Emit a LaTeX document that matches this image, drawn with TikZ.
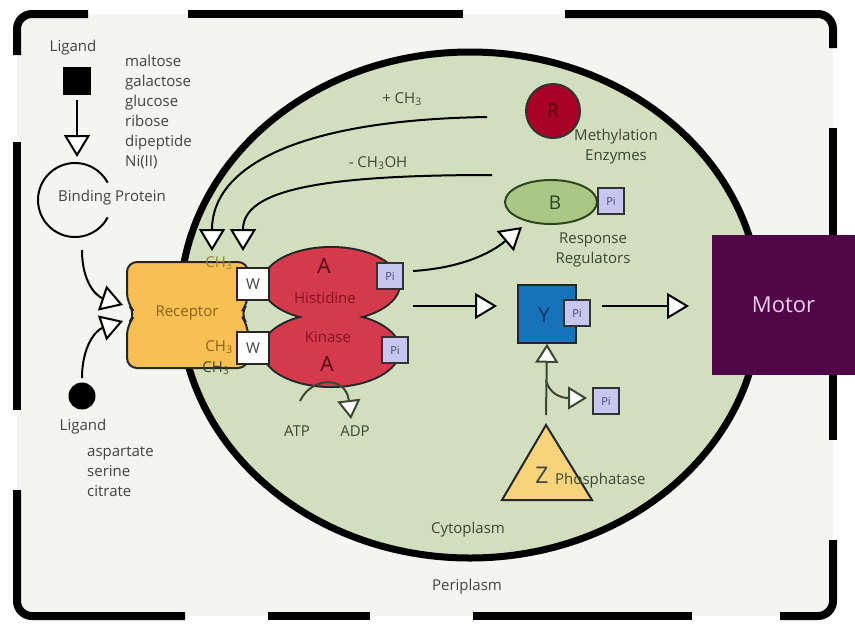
\documentclass[tikz,border=0pt]{standalone}
\usepackage{fontspec}
\setmainfont{Open Sans}
\usetikzlibrary{arrows.meta,shapes.geometric}

\definecolor{paper}{RGB}{244,244,241}
\definecolor{cellgreen}{RGB}{209,223,190}
\definecolor{labelgray}{RGB}{66,66,66}
\definecolor{celltext}{RGB}{58,72,52}
\definecolor{recyellow}{RGB}{248,192,84}
\definecolor{rectext}{RGB}{140,96,20}
\definecolor{kinred}{RGB}{212,58,76}
\definecolor{kintext}{RGB}{135,18,36}
\definecolor{kinletter}{RGB}{85,8,20}
\definecolor{pifill}{RGB}{198,198,238}
\definecolor{pitext}{RGB}{70,70,120}
\definecolor{bgreen}{RGB}{170,199,134}
\definecolor{bdraw}{RGB}{44,70,30}
\definecolor{rred}{RGB}{168,0,38}
\definecolor{rletter}{RGB}{85,0,16}
\definecolor{yblue}{RGB}{22,115,185}
\definecolor{yletter}{RGB}{10,52,100}
\definecolor{zyellow}{RGB}{247,212,124}
\definecolor{motorpurple}{RGB}{79,7,72}
\definecolor{motortext}{RGB}{238,204,238}
\definecolor{ch3olive}{RGB}{150,130,40}

\begin{document}
\begin{tikzpicture}[x=1pt,y=-1pt,
  frame/.style={line width=8pt, line cap=butt, rounded corners=15pt},
  lbl/.style={font=\fontsize{15}{20}\selectfont, text=labelgray, inner sep=0pt},
  clbl/.style={lbl, text=celltext},
  big/.style={font=\fontsize{21}{21}\selectfont, inner sep=0pt},
  pibox/.style={draw=black!80, fill=pifill, line width=1.5pt, minimum size=26pt,
    inner sep=0pt, font=\fontsize{11}{11}\selectfont, text=pitext},
  wbox/.style={draw=black!85, fill=white, line width=1.5pt, minimum size=32pt,
    inner sep=0pt, font=\fontsize{15}{15}\selectfont, text=labelgray},
  kin/.style={ellipse, draw=black!85, fill=kinred, line width=4pt,
    minimum width=136pt, minimum height=72pt, inner sep=0pt},
  arr/.style={line width=2pt, -{Triangle[width=26pt,length=22pt,fill=white]}},
  arrs/.style={line width=2pt, -{Triangle[width=23pt,length=19pt,fill=white]}},
]
\useasboundingbox (0,0) rectangle (855,625);
\fill[white] (0,0) rectangle (855,625);
\fill[paper, rounded corners=15pt] (17,14) rectangle (833,616);

% broken outer wall
\draw[frame] (88,14) -- (17,14) -- (17,55);
\draw[frame] (188,14) -- (463,14);
\draw[frame] (565,14) -- (833,14) -- (833,48);
\draw[frame] (833,128) -- (833,440);
\draw[frame] (833,540) -- (833,616) -- (780,616);
\draw[frame] (692,616) -- (473,616);
\draw[frame] (370,616) -- (268,616);
\draw[frame] (185,616) -- (17,616) -- (17,490);
\draw[frame] (17,410) -- (17,142);

% cell
\node[ellipse, draw, line width=7pt, fill=cellgreen, minimum width=580pt,
  minimum height=506pt, inner sep=0pt] (cell) at (470,305) {};
\node[clbl] (cyto) at (468,530) {Cytoplasm};
\node[lbl] (peri) at (467,587) {Periplasm};

% ligands outside
\node[lbl] (lig1) at (73,48) {Ligand};
\node[fill=black, minimum size=28pt, inner sep=0pt] (sq) at (77,81) {};
\node[lbl, align=left, anchor=west] (sugars) at (125,112)
  {maltose\\galactose\\glucose\\ribose\\dipeptide\\Ni(II)};
\node[circle, minimum size=74pt, inner sep=0pt] (bp) at (75,200) {};
\draw[line width=2pt] (75,200) ++(28:37) arc[start angle=28, end angle=332, radius=37];
\node[lbl] (bptext) at (112,198) {Binding Protein};
\coordinate (bptip) at (77,157);
\draw[arr] (77,100) -- (bptip);

\node[circle, fill=black, minimum size=27pt, inner sep=0pt] (dot) at (82,396) {};
\node[lbl] (lig2) at (83,427) {Ligand};
\node[lbl, align=left, anchor=west] (aminos) at (87,472)
  {aspartate\\serine\\citrate};

% receptor
\draw[fill=recyellow, draw=black!85, line width=2pt, rounded corners=10pt]
  (127,262) -- (248,262) -- (248,303) -- (240,314) -- (248,325) -- (248,368)
  -- (127,368) -- (127,325) -- (136,314) -- (127,303) -- cycle;
\node[lbl, text=rectext] (rec) at (187,313) {Receptor};
\coordinate (rectip1) at (123,305);
\coordinate (rectip2) at (123,321);
\draw[arr] (82,250) .. controls (82,282) and (96,296) .. (rectip1);
\draw[arr] (82,378) .. controls (82,346) and (96,330) .. (rectip2);

% histidine kinase
\node[kin] (hk1) at (331,284) {};
\node[kin] (hk2) at (331,350) {};
\fill[kinred] (331,284) ellipse [x radius=68, y radius=36];
\fill[kinred] (331,350) ellipse [x radius=68, y radius=36];
\node[big, text=kinletter] (a1) at (324,266) {A};
\node[lbl, text=kintext] (his) at (325,298) {Histidine};
\node[lbl, text=kintext] (kinase) at (328,337) {Kinase};
\node[big, text=kinletter] (a2) at (327,364) {A};
\node[wbox] (w1) at (253,284) {W};
\node[wbox] (w2) at (253,348) {W};
\node[pibox] (pi1) at (390,276) {Pi};
\node[pibox] (pi2) at (395,350) {Pi};
\node[lbl, text=ch3olive] (ch3a) at (219,263) {CH\textsubscript{3}};
\node[lbl, text=rectext] (ch3b) at (219,347) {CH\textsubscript{3}};
\node[lbl, text=celltext] (ch3c) at (216,368) {CH\textsubscript{3}};

% ATP -> ADP
\coordinate (adp) at (351,419);
\draw[arrs, draw=celltext] (300,401) .. controls (312,376) and (346,376) .. (adp);
\node[clbl] (atp) at (297,431) {ATP};
\node[clbl] (adptext) at (355,431) {ADP};

% methylation
\node[circle, draw=black!80, fill=rred, line width=2pt, minimum size=54pt,
  inner sep=0pt, font=\fontsize{19}{19}\selectfont, text=rletter] (r) at (553,111) {R};
\node[clbl, align=center] (meth) at (616,147) {Methylation\\Enzymes};
\coordinate (mtip1) at (212,251);
\coordinate (mtip2) at (243,251);
\draw[arr] (487,117) .. controls (290,120) and (212,170) .. (mtip1);
\draw[arr] (492,175) .. controls (320,175) and (243,190) .. (mtip2);
\node[lbl, text=celltext] (plus) at (402,99) {+ CH\textsubscript{3}};
\node[lbl, text=celltext] (minus) at (378,163) {- CH\textsubscript{3}OH};

% response regulators
\node[ellipse, draw=bdraw, fill=bgreen, line width=2pt, minimum width=92pt,
  minimum height=44pt, inner sep=0pt] (b) at (551,202) {};
\node[big, text=bdraw, font=\fontsize{19}{19}\selectfont] (blet) at (555,203) {B};
\node[pibox] (bpi) at (611,201) {Pi};
\node[clbl, align=center] (resp) at (593,250) {Response\\Regulators};
\coordinate (btip) at (522,227);
\draw[arr] (413,271) .. controls (460,268) and (490,254) .. (btip);

\node[draw=black!85, fill=yblue, line width=1.5pt, minimum size=58pt,
  inner sep=0pt] (y) at (547,314) {};
\node[big, text=yletter] (ylet) at (544,315) {Y};
\node[pibox] (ypi) at (577,313) {Pi};
\coordinate (ytip) at (497,306);
\draw[arr] (413,306) -- (ytip);

% motor
\node[fill=motorpurple, minimum width=143pt, minimum height=140pt, inner sep=0pt,
  font=\fontsize{22}{22}\selectfont, text=motortext] (motor) at (783.5,305) {Motor};
\coordinate (mtip) at (689,306);
\draw[arr] (602,306) -- (mtip);

% phosphatase
\draw[fill=zyellow, draw=black!85, line width=2pt, line join=miter]
  (502,500) -- (546,425) -- (592,500) -- cycle;
\node[font=\fontsize{23}{23}\selectfont, text=labelgray, inner sep=0pt] (z) at (542,475) {Z};
\node[clbl, anchor=west] (phos) at (555,481) {Phosphatase};
\draw[arrs, draw=celltext] (546,415) -- (y.south);
\node[pibox] (pi4) at (606,401) {Pi};
\coordinate (pitip) at (587,398);
\draw[arrs, draw=celltext] (546,380) .. controls (549,393) and (560,398) .. (pitip);
\end{tikzpicture}
\end{document}
